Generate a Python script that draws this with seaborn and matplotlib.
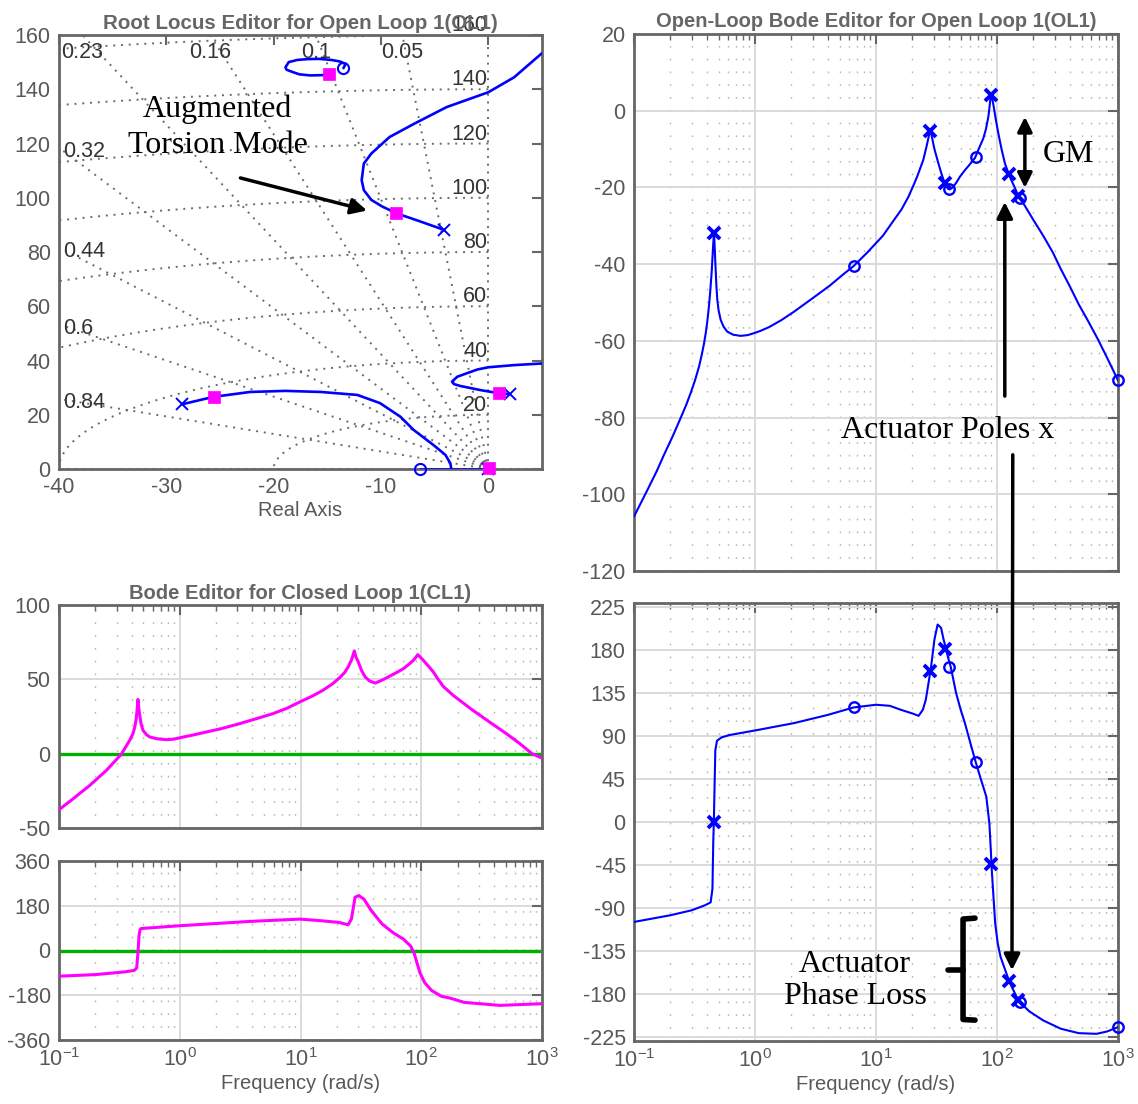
import numpy as np
import matplotlib
matplotlib.use("Agg")
import matplotlib.pyplot as plt
import seaborn as sns
from matplotlib.ticker import FixedLocator, LogLocator, NullFormatter

# ---------------- data ----------------
# Root locus branches (real part, imaginary part)
rl_loop_re = [-14.4, -15.5, -16.6, -17.6, -18.2, -18.8, -18.9, -18.6, -17.8, -16.9, -15.8, -14.6, -13.8, -13.3, -13.5]
rl_loop_im = [145.6, 145.2, 145.1, 145.5, 146.3, 147.2, 148.1, 150.0, 150.8, 151.1, 151.2, 150.8, 150.2, 149.3, 147.8]
rl_tors_re = [-4.09, -6.3, -8.58, -9.9, -10.9, -11.6, -11.8, -11.6, -10.9, -9.2, -6.9, -3.9, 0.0, 2.4, 5.0]
rl_tors_im = [88.1, 91.2, 94.3, 96.8, 99.2, 102.8, 106.5, 112.6, 116.3, 122.4, 127.3, 133.4, 138.9, 144.4, 153.3]
rl_low_re = [-28.5, -25.6, -22.2, -18.9, -15.6, -12.2, -10.1, -8.2, -6.96, -5.1, -4.0, -3.54, -3.45]
rl_low_im = [23.9, 26.6, 28.4, 28.8, 28.4, 27.3, 24.3, 19.3, 14.4, 8.8, 5.2, 2.1, 0.0]
rl_real_re = [-6.4, 0.0]
rl_real_im = [0.0, 0.0]
rl_right_re = [1.99, 1.03, -0.75, -2.6, -3.2, -3.39, -2.9, -2.0, -1.0, 0.0, 2.4, 5.0]
rl_right_im = [27.6, 27.9, 29.1, 30.6, 31.3, 32.2, 34.0, 35.3, 36.7, 37.5, 38.3, 38.9]
rl_poles_re = [-4.09, -28.5, 1.99, 0.0]
rl_poles_im = [88.1, 23.9, 27.6, 0.0]
rl_zeros_re = [-13.5, -6.4]
rl_zeros_im = [147.8, 0.0]
rl_cl_re = [-14.8, -8.58, -25.6, 1.03, 0.03]
rl_cl_im = [145.7, 94.3, 26.6, 27.9, 0.26]
rl_damping = [0.05, 0.1, 0.16, 0.23, 0.32, 0.44, 0.6, 0.84]
rl_wn = [20, 40, 60, 80, 100, 120, 140, 160]

# Open-loop Bode magnitude (rad/s, dB)
ol_freq = [0.1, 0.129, 0.155, 0.177, 0.21, 0.243, 0.27, 0.294, 0.32, 0.344, 0.362, 0.379, 0.392, 0.404,
           0.415, 0.425, 0.439, 0.45, 0.458,
           0.462, 0.467, 0.473, 0.48, 0.488, 0.50, 0.52, 0.55, 0.59, 0.66, 0.76, 0.87, 0.98, 1.11, 1.31,
           1.65, 2.1, 2.96, 4.15, 5.25, 6.53, 8.45, 11.4, 14.0, 16.2, 18.5, 20.5, 22.0, 24.6, 26.3, 27.5,
           28.0, 28.6, 29.5, 30.4, 32.7, 34.5, 36.2, 37.5, 39.4, 41.0, 43.0, 46.0, 49.4, 54.3, 60.3, 65.8,
           71.0, 77.1, 81.0, 84.9, 87.5, 89.0, 91.0, 94.0, 98.0, 102.6, 109.0, 116.0, 121.0, 130.0, 140.0,
           150.0, 170.0, 200.0, 241.0, 290.0, 337.0, 400.0, 474.0, 570.0, 685.0, 830.0, 1000.0]
ol_mag = [-105.8, -98.9, -93.8, -89.7, -84.7, -80.1, -76.7, -73.6, -70.2, -66.8, -63.8, -60.7, -57.9, -54.8,
          -51.4, -47.8, -41.8, -35.6, -31.9,
          -34.0, -37.5, -41.5, -45.8, -49.3, -52.0, -54.5, -56.3, -57.6, -58.4, -58.7, -58.5, -58.0, -57.4, -56.4,
          -54.6, -52.4, -49.0, -45.6, -42.9, -40.5, -37.0, -32.6, -28.6, -25.8, -22.5, -19.3, -17.0, -12.8, -9.0, -6.2,
          -5.4, -6.0, -8.0, -10.0, -13.6, -16.1, -18.1, -19.2, -20.4, -20.5, -20.0, -18.8, -17.2, -15.5, -13.8, -12.3,
          -9.8, -7.2, -4.8, -1.5, 2.0, 4.4, 3.5, 1.0, -2.5, -5.9, -10.0, -13.6, -15.3, -17.8, -20.0,
          -22.2, -24.8, -28.5, -32.6, -37.0, -41.3, -45.8, -50.5, -55.0, -59.7, -65.0, -70.3]
# Open-loop Bode phase (rad/s, deg)
olp_freq = [0.1, 0.2, 0.3, 0.387, 0.43, 0.445, 0.452, 0.457, 0.462, 0.47, 0.485, 0.53, 0.62, 1.07, 2.1,
            4.0, 6.53, 10.0, 13.0, 16.0, 20.3, 22.5, 24.4, 25.8, 27.3, 28.6, 30.4, 32.3, 34.5, 36.2, 37.9,
            39.5, 41.5, 45.9, 50.1, 54.3, 60.3, 66.7, 73.9, 81.6, 86.5, 88.9, 90.4, 93.5, 96.6, 101.5, 107.0,
            114.6, 126.8, 150.0, 184.0, 241.0, 337.0, 474.0, 665.0, 815.0, 1000.0]
olp_phase = [-104.5, -97.5, -92.3, -87.0, -84.0, -70.0, -20.0, 0.0, 30.0, 75.0, 85.0, 88.5, 91.0, 96.4, 103.4,
             112.0, 119.8, 122.6, 121.5, 117.4, 113.2, 111.0, 117.4, 127.9, 147.0, 163.5, 190.8, 206.5, 203.0, 190.8, 181.0,
             171.5, 162.0, 134.9, 117.4, 103.4, 82.4, 62.5, 44.0, 26.5, -1.4, -29.4, -48.6, -78.3, -106.0, -127.2, -141.0,
             -151.7, -167.4, -186.6, -197.8, -207.5, -216.2, -220.8, -221.5, -219.0, -214.5]
ol_pole_freq = [0.458, 28.0, 37.3, 90.0, 125.0, 150.0]
ol_pole_mag = [-31.9, -5.4, -18.9, 4.0, -16.4, -22.2]
ol_pole_phase = [0.0, 158.0, 181.0, -44.0, -166.0, -186.6]
ol_zero_freq = [6.53, 40.1, 66.7, 155.0, 1000.0]
ol_zero_mag = [-40.5, -20.5, -12.0, -22.8, -70.3]
ol_zero_phase = [119.8, 162.0, 62.5, -188.0, -214.5]

# Closed-loop Bode
cl_freq = [0.1, 0.131, 0.18, 0.247, 0.328, 0.385, 0.41, 0.424, 0.436, 0.443, 0.451, 0.458, 0.466, 0.48,
           0.496, 0.53, 0.565, 0.65, 0.776, 0.9, 1.07, 1.3, 1.66, 2.2, 3.13, 4.3, 5.9, 7.7, 9.87, 12.5,
           15.3, 18.3, 21.1, 23.2, 24.8, 26.5, 27.9, 28.8, 30.1, 32.0, 34.3, 37.5, 41.5, 46.0, 51.9, 60.0,
           71.2, 80.0, 86.1, 90.5, 93.5, 98.0, 104.0, 115.0, 126.0, 138.0, 151.9, 184.0, 268.0, 380.0,
           506.0, 650.0, 826.0, 1000.0]
cl_mag = [-37.7, -30.3, -21.3, -11.2, -0.4, 9.0, 13.5, 17.9, 23.5, 29.1, 36.5, 30.5, 25.8, 19.5,
          15.7, 12.8, 11.2, 10.0, 9.4, 9.8, 11.2, 12.6, 14.6, 16.8, 20.2, 23.5, 26.9, 30.5, 34.8, 38.7,
          42.6, 46.8, 51.1, 54.6, 58.3, 63.2, 69.1, 65.0, 61.7, 56.0, 51.6, 48.8, 47.5, 49.0, 51.1, 53.8,
          57.2, 60.5, 62.8, 65.0, 66.6, 65.0, 62.8, 58.8, 54.9, 50.0, 45.3, 39.2, 29.1, 20.5,
          13.5, 7.0, 0.0, -3.0]
clp_freq = [0.1, 0.2, 0.35, 0.42, 0.44, 0.452, 0.46, 0.47, 0.48, 0.98, 3.82, 9.9, 14.9, 20.9, 24.8, 26.4, 28.3,
            30.4, 33.5, 38.6, 47.5, 58.2, 71.3, 81.6, 87.0, 97.6, 107.0, 122.0, 147.0, 172.0, 227.0, 447.0, 1000.0]
clp_phase = [-103.3, -97.0, -86.0, -80.0, -70.0, 0.0, 60.0, 85.0, 88.5, 99.3, 117.0, 126.3, 119.6, 112.8, 103.4, 126.3, 214.0,
             221.0, 207.0, 160.0, 106.0, 72.3, 45.3, 18.2, -8.8, -89.8, -130.0, -161.0, -184.4, -191.0, -208.7, -220.8, -214.0]
ref_freq = [0.1, 1000.0]
ref_level = [0.0, 0.0]

# ---------------- style ----------------
sns.set_theme(style="white")
plt.rcParams["font.family"] = ["Liberation Sans", "DejaVu Sans"]
plt.rcParams["mathtext.default"] = "regular"
plt.rcParams["axes.unicode_minus"] = False

BLUE = "#0000ff"
PINK = "#ff00ff"
GREEN = "#00b000"
SPINE = "#666666"
TICKLAB = "#585858"
TITLE = "#666666"
SERIF = ["Liberation Serif", "DejaVu Serif"]

W, H = 1138, 1104
fig = plt.figure(figsize=(W / 100, H / 100), dpi=100)
fig.patch.set_facecolor("white")


def add_ax(l, t, r, b):
    return fig.add_axes([l / W, 1 - b / H, (r - l) / W, (b - t) / H])


def style(ax):
    for s in ax.spines.values():
        s.set_visible(True)
        s.set_color(SPINE)
        s.set_linewidth(2)
    ax.tick_params(which="both", direction="in", top=True, right=True,
                   colors=SPINE, labelcolor=TICKLAB, labelsize=15.5)
    ax.tick_params(which="major", length=7, width=1.5, pad=6)
    ax.tick_params(which="minor", length=4, width=1.0)
    ax.set_xlabel("")
    ax.set_ylabel("")


def bode_style(ax, yticks, ylim, labels=False):
    ax.set_xscale("log")
    ax.set_xlim(0.1, 1000)
    ax.set_ylim(*ylim)
    ax.xaxis.set_major_locator(FixedLocator([0.1, 1, 10, 100, 1000]))
    ax.xaxis.set_minor_locator(LogLocator(base=10, subs=np.arange(2, 10), numticks=20))
    ax.xaxis.set_minor_formatter(NullFormatter())
    ax.set_yticks(yticks)
    ax.set_yticklabels([str(v) for v in yticks])
    ax.grid(True, which="major", color="#dadada", lw=1.4, ls="-")
    ax.grid(True, which="minor", axis="x", color="#b5b5b5", lw=1.0, ls=(0, (1.2, 8)))
    ax.set_axisbelow(True)
    style(ax)
    if not labels:
        ax.tick_params(labelbottom=False)


def marks(ax, x, y, kind, color=BLUE, **kw):
    if kind == "x":
        opts = dict(marker="x", ms=9, mew=2.8, mec=color, mfc=color)
    elif kind == "o":
        opts = dict(marker="o", ms=7.5, mew=1.7, mec=color, mfc="none")
    else:
        opts = dict(marker="s", ms=8, mew=0.5, mec=color, mfc=color)
    opts.update(kw)
    sns.lineplot(x=x, y=y, ax=ax, estimator=None, sort=False, ls="none", color=color,
                 zorder=5, clip_on=False, **opts)


# ---------------- Root locus ----------------
ax_rl = add_ax(59, 35, 542, 469)
ax_rl.set_xlim(-40, 5)
ax_rl.set_ylim(0, 160)
dot = dict(color="#6a6a6a", lw=1.4, ls=(0, (1, 3)), zorder=1)
for z in rl_damping:
    ang = np.arccos(z)
    r = np.array([0, 300])
    ax_rl.plot(-r * np.cos(ang), r * np.sin(ang), **dot)
for wn in rl_wn:
    th = np.linspace(np.pi / 2, np.pi, 200)
    ax_rl.plot(wn * np.cos(th), wn * np.sin(th), **dot)
ax_rl.plot([0, 0], [0, 160], **dot)
ax_rl.plot([-40, 5], [0, 0], **dot)

for z in rl_damping[:4]:
    xr = -160 * z / np.sqrt(1 - z * z)
    ax_rl.text(xr, 153.5, f"{z:g}", ha="center", va="center", fontsize=15.5, color="#333333")
for z in rl_damping[4:]:
    yr = 40 * np.sqrt(1 - z * z) / z
    ax_rl.text(-39.6, yr - 1.5, f"{z:g}", ha="left", va="center", fontsize=15.5, color="#333333")
for wn in rl_wn:
    ax_rl.text(-0.1, wn + 3.5, str(wn), ha="right", va="center", fontsize=15.5, color="#333333",
               clip_on=False)

line_kw = dict(color=BLUE, lw=1.9, estimator=None, sort=False, ax=ax_rl, zorder=3)
sns.lineplot(x=rl_loop_re, y=rl_loop_im, **line_kw)
sns.lineplot(x=rl_tors_re, y=rl_tors_im, **line_kw)
sns.lineplot(x=rl_low_re, y=rl_low_im, **line_kw)
sns.lineplot(x=rl_real_re, y=rl_real_im, **line_kw)
sns.lineplot(x=rl_right_re, y=rl_right_im, **line_kw)
marks(ax_rl, rl_poles_re, rl_poles_im, "x", ms=9, mew=1.4)
marks(ax_rl, rl_zeros_re, rl_zeros_im, "o", ms=8, mew=1.5)
marks(ax_rl, rl_cl_re, rl_cl_im, "s", color=PINK)
ax_rl.set_xticks([-40, -30, -20, -10, 0])
ax_rl.set_yticks(list(range(0, 161, 20)))
style(ax_rl)
ax_rl.set_xlabel("Real Axis", fontsize=14.5, color=TICKLAB, labelpad=2)
ax_rl.set_title("Root Locus Editor for Open Loop 1(OL1)", fontsize=14.8, fontweight="bold",
                color=TITLE, pad=4)

ax_rl.text(-25.2, 132.6, "Augmented", ha="center", va="center", fontsize=23, family=SERIF, color="black")
ax_rl.text(-25.2, 119.3, "Torsion Mode", ha="center", va="center", fontsize=23, family=SERIF, color="black")
ax_rl.annotate("", xy=(-11.3, 95.3), xytext=(-23.1, 107.3),
               arrowprops=dict(arrowstyle="-|>", color="black", lw=2.5, mutation_scale=24,
                               shrinkA=0, shrinkB=0))

# ---------------- Open-loop Bode ----------------
ax_olm = add_ax(634, 34, 1118, 571)
sns.lineplot(x=ol_freq, y=ol_mag, ax=ax_olm, color=BLUE, lw=1.5, estimator=None, sort=False, zorder=3)
marks(ax_olm, ol_pole_freq, ol_pole_mag, "x")
marks(ax_olm, ol_zero_freq, ol_zero_mag, "o")
bode_style(ax_olm, list(range(-120, 21, 20)), (-120, 20))
ax_olm.set_title("Open-Loop Bode Editor for Open Loop 1(OL1)", fontsize=14.5, fontweight="bold",
                 color=TITLE, pad=5)
ax_olm.text(393, -11.5, "GM", ha="center", va="center", fontsize=23, family=SERIF, color="black")
ax_olm.annotate("", xy=(170, -1.6), xytext=(170, -20.1),
                arrowprops=dict(arrowstyle="<|-|>", color="black", lw=2.5, mutation_scale=22,
                                shrinkA=0, shrinkB=0))
ax_olm.text(39.4, -83.5, "Actuator Poles x", ha="center", va="center", fontsize=23, family=SERIF,
            color="black")
ax_olm.annotate("", xy=(116, -23.8), xytext=(116, -74.4),
                arrowprops=dict(arrowstyle="-|>", color="black", lw=2.5, mutation_scale=24,
                                shrinkA=0, shrinkB=0))

ax_olp = add_ax(634, 603, 1118, 1041)
sns.lineplot(x=olp_freq, y=olp_phase, ax=ax_olp, color=BLUE, lw=1.5, estimator=None, sort=False, zorder=3)
marks(ax_olp, ol_pole_freq, ol_pole_phase, "x")
marks(ax_olp, ol_zero_freq, ol_zero_phase, "o")
bode_style(ax_olp, list(range(-225, 226, 45)), (-229, 229), labels=True)
ax_olp.set_xlabel("Frequency (rad/s)", fontsize=14.5, color=TICKLAB, labelpad=2)
ax_olp.text(6.7, -166, "Actuator\nPhase Loss", ha="center", va="center", fontsize=23, family=SERIF,
            color="black", linespacing=1.15)
ax_olp.plot([65.8, 52.4, 52.4, 65.8], [-100.5, -101.5, -206.5, -207.2], color="black", lw=4,
            solid_capstyle="round", solid_joinstyle="round", zorder=6)
ax_olp.plot([39.4, 52.4], [-154.9, -154.9], color="black", lw=4, solid_capstyle="round", zorder=6)
ax_olp.annotate("", xy=(133, -155), xycoords="data", xytext=(135, -89.7), textcoords=ax_olm.transData,
                arrowprops=dict(arrowstyle="-|>", color="black", lw=2.5, mutation_scale=24,
                                shrinkA=0, shrinkB=0), annotation_clip=False, zorder=10)

# ---------------- Closed-loop Bode ----------------
ax_clm = add_ax(59, 605, 542, 828)
sns.lineplot(x=ref_freq, y=ref_level, ax=ax_clm, color=GREEN, lw=2.4, estimator=None, sort=False, zorder=2)
sns.lineplot(x=cl_freq, y=cl_mag, ax=ax_clm, color=PINK, lw=2.2, estimator=None, sort=False, zorder=3)
bode_style(ax_clm, [-50, 0, 50, 100], (-50, 100))
ax_clm.set_title("Bode Editor for Closed Loop 1(CL1)", fontsize=14.5, fontweight="bold", color=TITLE, pad=4)

ax_clp = add_ax(59, 861, 542, 1040)
sns.lineplot(x=ref_freq, y=ref_level, ax=ax_clp, color=GREEN, lw=2.4, estimator=None, sort=False, zorder=2)
sns.lineplot(x=clp_freq, y=clp_phase, ax=ax_clp, color=PINK, lw=2.2, estimator=None, sort=False, zorder=3)
bode_style(ax_clp, [-360, -180, 0, 180, 360], (-360, 360), labels=True)
ax_clp.set_xlabel("Frequency (rad/s)", fontsize=14.5, color=TICKLAB, labelpad=2)

fig.savefig("out.png", dpi=100, facecolor="white")
